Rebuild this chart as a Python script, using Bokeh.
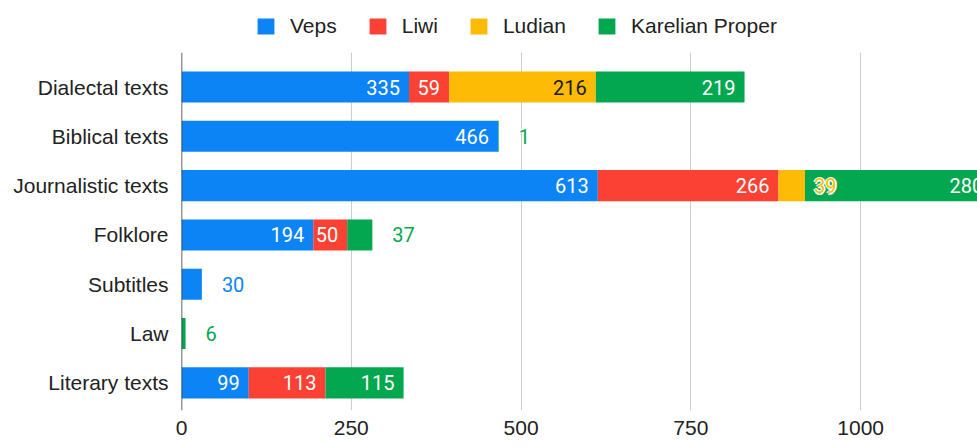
from bokeh.plotting import figure
from bokeh.layouts import column
from bokeh.models import (ColumnDataSource, Range1d, Legend, LegendItem, Span,
                          FixedTicker)
from bokeh.core.properties import value
from bokeh.embed import file_html
from bokeh.resources import INLINE

# ---- data ----
categories = ["Dialectal texts", "Biblical texts", "Journalistic texts", "Folklore",
              "Subtitles", "Law", "Literary texts"]
series = ["Veps", "Liwi", "Ludian", "Karelian Proper"]
veps = [335, 466, 613, 194, 30, 0, 99]
liwi = [59, 0, 266, 50, 0, 0, 113]
ludian = [216, 0, 39, 0, 0, 0, 0]
karelian = [219, 1, 280, 37, 0, 6, 115]
x_ticks = [0, 250, 500, 750, 1000]

# ---- style ----
colors = ["#0c84f5", "#fa4133", "#fdbb05", "#03a74f"]
inside_text_colors = ["white", "white", "#1a1a1a", "white"]
W = 977
LEG_H, MAIN_H = 52, 393
B_LEFT, B_BOTTOM = 181, 35
X_END = 1172

values = [veps, liwi, ludian, karelian]
ypos = list(range(len(categories)))
keys = ["s0", "s1", "s2", "s3"]
data = {"y": ypos}
for k, v in zip(keys, values):
    data[k] = v
src = ColumnDataSource(data)

p = figure(width=W, height=MAIN_H, output_backend="svg", toolbar_location=None,
           x_range=Range1d(0, X_END), y_range=Range1d(6.56, -0.70),
           min_border_left=B_LEFT, min_border_right=0, min_border_top=0,
           min_border_bottom=B_BOTTOM)
p.outline_line_color = None

rs = p.hbar_stack(keys, y="y", height=0.63, fill_color=colors, line_color=None,
                  source=src)

# ---- axes / grid ----
p.xaxis.ticker = FixedTicker(ticks=x_ticks)
p.xaxis.axis_line_color = None
p.xaxis.major_tick_line_color = None
p.xaxis.minor_tick_line_color = None
p.xaxis.major_tick_out = 0
p.xaxis.major_tick_in = 0
p.xaxis.major_label_standoff = 10
p.xaxis.major_label_text_font = "Liberation Sans"
p.xaxis.major_label_text_font_size = "21px"
p.xaxis.major_label_text_color = "#222222"
p.xgrid.ticker = FixedTicker(ticks=x_ticks)
p.xgrid.grid_line_color = "#cccccc"
p.ygrid.grid_line_color = None

p.yaxis.ticker = FixedTicker(ticks=ypos)
p.yaxis.major_label_overrides = {i: c for i, c in enumerate(categories)}
p.yaxis.axis_line_color = None
p.yaxis.major_tick_line_color = None
p.yaxis.minor_tick_line_color = None
p.yaxis.major_tick_out = 0
p.yaxis.major_tick_in = 0
p.yaxis.major_label_standoff = 13
p.yaxis.major_label_text_font = "Liberation Sans"
p.yaxis.major_label_text_font_size = "21px"
p.yaxis.major_label_text_color = "#222222"

p.add_layout(Span(location=0, dimension="height", line_color="#333333", line_width=1.5))

# ---- value labels ----
px_per_unit = (W - B_LEFT) / X_END
inside = dict(x=[], y=[], t=[], c=[], xo=[])
outside = dict(x=[], y=[], t=[], c=[], xo=[])
for j in range(len(categories)):
    nz = [i for i in range(len(series)) if values[i][j] > 0]
    last = max(nz)
    cum = 0
    for i in range(len(series)):
        v = values[i][j]
        if v <= 0:
            continue
        cum += v
        if v * px_per_unit >= 30:
            inside["x"].append(cum); inside["y"].append(j); inside["t"].append(str(v))
            inside["c"].append(inside_text_colors[i])
            inside["xo"].append(-12.0 if cum * px_per_unit > W - B_LEFT else -9.0)
        else:
            off = 20.0 if i == last else 9.0
            outside["x"].append(cum); outside["y"].append(j); outside["t"].append(str(v))
            outside["c"].append(colors[i]); outside["xo"].append(off)

p.text(x="x", y="y", text="t", x_offset="xo", text_color="c", text_align="right",
       text_baseline="middle", text_font=value("Roboto"), text_font_size="20px",
       source=ColumnDataSource(inside))
osrc = ColumnDataSource(outside)
for dx, dy in [(-1.5, 0), (1.5, 0), (0, -1.5), (0, 1.5)]:
    hsrc = ColumnDataSource(dict(x=outside["x"], y=outside["y"], t=outside["t"],
                                 xo=[o + dx for o in outside["xo"]]))
    p.text(x="x", y="y", text="t", x_offset="xo", y_offset=dy, text_color="white",
           text_align="left", text_baseline="middle", text_font=value("Roboto"),
           text_font_size="20px", source=hsrc)
p.text(x="x", y="y", text="t", x_offset="xo", text_color="c", text_align="left",
       text_baseline="middle", text_font=value("Roboto"), text_font_size="20px",
       source=osrc)

# ---- legend strip above the chart (frames are aligned by the column) ----
lf = figure(width=W, height=LEG_H, output_backend="svg", toolbar_location=None,
            x_range=Range1d(0, 1), y_range=Range1d(0, 1),
            x_axis_type=None, y_axis_type=None,
            min_border_left=0, min_border_right=0, min_border_top=0, min_border_bottom=0)
lf.outline_line_color = None
lf.xgrid.visible = False
lf.ygrid.visible = False
swatch = ColumnDataSource(dict(y=[0.5], left=[0], right=[0]))  # zero-width: swatch only
lrs = [lf.hbar(y="y", left="left", right="right", height=0.5, fill_color=c,
               line_color=None, source=swatch) for c in colors]
legend = Legend(items=[LegendItem(label=n, renderers=[r]) for n, r in zip(series, lrs)],
                orientation="horizontal", location=(74, 14),
                glyph_width=21, glyph_height=20, label_standoff=14, spacing=30,
                padding=0, margin=0, border_line_color=None, background_fill_alpha=0,
                label_text_font="Liberation Sans", label_text_font_size="21px",
                label_text_color="#222222")
lf.add_layout(legend, "center")

layout = column(lf, p, spacing=0)
open("out.html", "w").write(file_html(layout, INLINE))
